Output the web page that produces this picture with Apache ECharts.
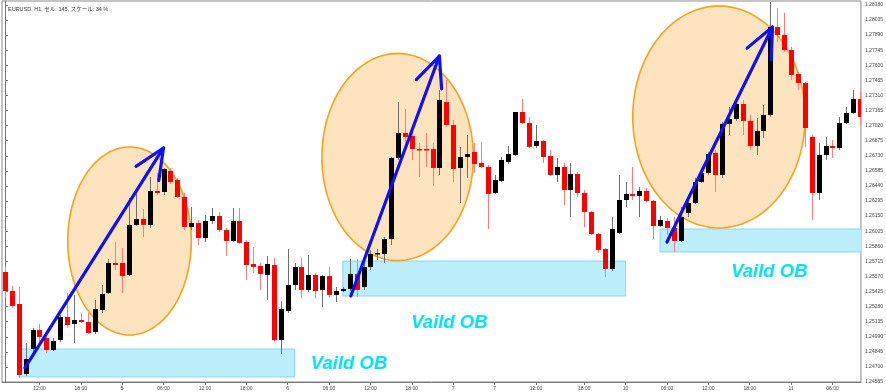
<!DOCTYPE html>
<html><head><meta charset="utf-8">
<script src="https://cdn.jsdelivr.net/npm/echarts@6/dist/echarts.min.js"></script>
<style>html,body{margin:0;padding:0;background:#fff}#c{width:886px;height:392px}</style>
</head><body><div id="c"></div>
<script>
const opens = [1.25613,1.25430,1.25305,1.24632,1.24872,1.25055,1.24978,1.24863,1.24959,1.25180,1.25113,1.25151,1.25132,1.25036,1.25247,1.25411,1.25699,1.25699,1.25584,1.26065,1.26122,1.26065,1.26392,1.26382,1.26584,1.26497,1.26334,1.26045,1.26084,1.25940,1.26103,1.26151,1.26017,1.25911,1.26103,1.25901,1.25690,1.25670,1.25584,1.25680,1.24959,1.25238,1.25488,1.25661,1.25440,1.25584,1.25440,1.25574,1.25392,1.25430,1.25449,1.25594,1.25468,1.25661,1.25786,1.25786,1.25930,1.26709,1.26949,1.26920,1.26795,1.26795,1.26795,1.26613,1.27247,1.27026,1.26613,1.26718,1.26767,1.26661,1.26622,1.26372,1.26488,1.26670,1.26738,1.27151,1.27045,1.26824,1.26872,1.26728,1.26545,1.26622,1.26401,1.26555,1.26372,1.26190,1.25978,1.25834,1.25642,1.25988,1.26305,1.26363,1.26344,1.26392,1.26295,1.26055,1.26103,1.26036,1.25911,1.26180,1.26276,1.26478,1.26565,1.26757,1.26545,1.27036,1.27084,1.27228,1.27065,1.26824,1.26968,1.27122,1.27968,1.27891,1.27747,1.27516,1.27430,1.26911,1.26372,1.26738,1.26824,1.26805,1.27045,1.27142,1.27276];
const highs = [1.25661,1.25478,1.25468,1.24930,1.25074,1.25113,1.25026,1.24978,1.25199,1.25411,1.25392,1.25219,1.25219,1.25344,1.25488,1.25738,1.25901,1.25844,1.26324,1.26382,1.26219,1.26526,1.26565,1.26613,1.26613,1.26517,1.26372,1.26238,1.26113,1.26161,1.26228,1.26190,1.26036,1.26228,1.26228,1.25920,1.25853,1.25699,1.25767,1.25747,1.25334,1.25834,1.25699,1.25747,1.25776,1.25603,1.25584,1.25661,1.25468,1.25468,1.25738,1.25738,1.25699,1.25824,1.25834,1.25949,1.26718,1.27247,1.27180,1.26978,1.26853,1.26949,1.26853,1.27363,1.27459,1.27074,1.26815,1.26930,1.26853,1.26863,1.26641,1.26545,1.26718,1.26824,1.27151,1.27276,1.27103,1.27026,1.26882,1.26786,1.26709,1.26661,1.26661,1.26574,1.26401,1.26199,1.25988,1.25844,1.26141,1.26545,1.26478,1.26622,1.26430,1.26420,1.26305,1.26151,1.26132,1.26141,1.26238,1.26324,1.26517,1.26613,1.26767,1.26786,1.27055,1.27199,1.27267,1.27267,1.27122,1.27093,1.27218,1.28209,1.28151,1.28103,1.27776,1.27536,1.27440,1.26930,1.26853,1.26911,1.26882,1.27103,1.27199,1.27363,1.27343];
const lows = [1.25372,1.25267,1.24594,1.24613,1.24844,1.24940,1.24834,1.24853,1.24940,1.25074,1.24930,1.25122,1.25017,1.25017,1.25219,1.25401,1.25632,1.25411,1.25574,1.26055,1.25949,1.26036,1.26353,1.26353,1.26459,1.26324,1.26017,1.26017,1.25872,1.25901,1.26074,1.25997,1.25767,1.25901,1.25882,1.25536,1.25603,1.25440,1.25344,1.24940,1.24824,1.25219,1.25440,1.25363,1.25420,1.25363,1.25276,1.25372,1.25324,1.25420,1.25430,1.25372,1.25440,1.25632,1.25728,1.25699,1.25872,1.26690,1.26853,1.26690,1.26526,1.26622,1.26440,1.26545,1.27007,1.26478,1.26276,1.26517,1.26565,1.26613,1.26026,1.26363,1.26478,1.26651,1.26728,1.27036,1.26805,1.26805,1.26661,1.26536,1.26478,1.26257,1.26141,1.26334,1.26045,1.25969,1.25795,1.25565,1.25622,1.25978,1.26238,1.26305,1.26141,1.26286,1.25930,1.26045,1.25969,1.25805,1.25901,1.26141,1.26266,1.26469,1.26545,1.26382,1.26517,1.26930,1.27065,1.26930,1.26786,1.26738,1.26901,1.27103,1.27824,1.27728,1.27459,1.27363,1.26815,1.26113,1.26305,1.26690,1.26709,1.26786,1.27036,1.27132,1.27026];
const closes = [1.25430,1.25286,1.24622,1.24776,1.25055,1.24988,1.24863,1.24949,1.25180,1.25103,1.25151,1.25132,1.25026,1.25257,1.25401,1.25699,1.25680,1.25574,1.26065,1.26122,1.26065,1.26392,1.26372,1.26603,1.26478,1.26334,1.26045,1.26084,1.25940,1.26103,1.26151,1.26017,1.25911,1.26103,1.25892,1.25680,1.25661,1.25594,1.25690,1.24959,1.25257,1.25488,1.25661,1.25440,1.25584,1.25430,1.25574,1.25392,1.25430,1.25449,1.25594,1.25440,1.25661,1.25786,1.25795,1.25930,1.26709,1.26949,1.26911,1.26795,1.26786,1.26786,1.26613,1.27267,1.27026,1.26603,1.26718,1.26747,1.26651,1.26622,1.26363,1.26497,1.26690,1.26747,1.27151,1.27045,1.26815,1.26872,1.26718,1.26545,1.26622,1.26401,1.26555,1.26372,1.26190,1.25978,1.25824,1.25642,1.26026,1.26305,1.26363,1.26344,1.26392,1.26295,1.26055,1.26113,1.26036,1.25911,1.26141,1.26276,1.26478,1.26565,1.26747,1.26545,1.27036,1.27084,1.27228,1.27065,1.26824,1.26968,1.27122,1.27968,1.27891,1.27747,1.27507,1.27430,1.26997,1.26372,1.26738,1.26824,1.26805,1.27045,1.27142,1.27276,1.27103];

const tickIndex = [5,11,17,23,29,35,41,47,53,59,65,71,77,84,90,96,102,108,114,120];
const tickLabels = ['12:00','18:00','5','06:00','12:00','18:00','6','06:00','12:00','18:00','7','7','12:00','18:00','10','06:00','12:00','18:00','11','06:00'];
const priceTicks = [1.24555,1.24700,1.24845,1.24990,1.25135,1.25280,1.25425,1.25570,1.25715,1.25860,1.26005,1.26150,1.26295,1.26440,1.26585,1.26730,1.26875,1.27020,1.27165,1.27310,1.27455,1.27600,1.27745,1.27890,1.28035,1.28180];

// [fromIndex, toIndex, topPrice, bottomPrice]
const zones = [[2,42,1.24872,1.24603],[49,90,1.25718,1.25382],[95,126,1.26026,1.25805]];
// [centerIndex, centerPrice, radiusInBars, radiusInPrice]
const ellipses = [[18.06,1.25911,8.96,0.00904],[56.94,1.26718,10.98,0.00995],[103.54,1.27103,12.5,0.01067]];
// [fromIndex, fromPrice, toIndex, toPrice]
const arrows = [[2.89,1.24690,22.98,1.26805],[50.15,1.25382,63.0,1.27689],[96.0,1.25901,111.3,1.27968]];
// [index, price, text]
const notes = [[49.9,1.24728,'Vaild OB'],[64.45,1.25122,'Vaild OB'],[110.85,1.25613,'Vaild OB']];

const candleData = opens.map((o,i)=>[i,o,closes[i],lows[i],highs[i]]);

const chart = echarts.init(document.getElementById('c'), null, {renderer:'canvas'});
chart.setOption({
  animation:false,
  backgroundColor:'#ffffff',
  title:{text:'EURUSD, H1, セル: 145, スケール: 34 %',left:3,top:2,textStyle:{fontSize:5.5,fontWeight:'normal',color:'#333',fontFamily:'Liberation Sans, Noto Sans CJK JP'}},
  grid:{left:2,right:22,top:1,bottom:10,show:true,borderColor:'#8a8a8a',borderWidth:1},
  xAxis:{type:'value',min:-0.434,max:124.13,
    axisLine:{show:true,lineStyle:{color:'#777'}},
    axisTick:{show:true,length:3,customValues:tickIndex,lineStyle:{color:'#777'}},
    axisLabel:{customValues:tickIndex,fontSize:5,color:'#444',margin:4,fontFamily:'Liberation Sans',
      formatter:v=>tickLabels[tickIndex.indexOf(Math.round(v))]||''},
    splitLine:{show:false}},
  yAxis:{type:'value',position:'right',min:1.24555,max:1.28218,scale:true,
    axisLine:{show:true,lineStyle:{color:'#777'}},
    axisTick:{show:true,length:3,customValues:priceTicks,lineStyle:{color:'#777'}},
    axisLabel:{customValues:priceTicks,fontSize:5,color:'#444',margin:4,fontFamily:'Liberation Sans',
      formatter:v=>v.toFixed(5)},
    splitLine:{show:false}},
  series:[
    {type:'custom',name:'zones',z:1,clip:true,data:zones,
      renderItem:(p,api)=>{
        const a=api.coord([api.value(0),api.value(2)]), b=api.coord([api.value(1),api.value(3)]);
        return {type:'rect',shape:{x:a[0],y:a[1],width:b[0]-a[0],height:b[1]-a[1]},
          style:{fill:'#bdeefc',stroke:'#84d8f2',lineWidth:1}};
      }},
    {type:'custom',name:'ellipses',z:2,clip:true,data:ellipses,
      renderItem:(p,api)=>{
        const c=api.coord([api.value(0),api.value(1)]);
        const e=api.coord([api.value(0)+api.value(2),api.value(1)+api.value(3)]);
        const rx=Math.abs(e[0]-c[0]), ry=Math.abs(e[1]-c[1]);
        const pts=[];
        for(let k=0;k<120;k++){const t=k/120*Math.PI*2;pts.push([c[0]+rx*Math.cos(t),c[1]+ry*Math.sin(t)]);}
        return {type:'polygon',shape:{points:pts},style:{fill:'#fee4be',stroke:'#f5a21e',lineWidth:1.6}};
      }},
    {type:'custom',name:'EURUSD',z:3,clip:true,data:candleData,
      renderItem:(p,api)=>{
        const i=api.value(0),o=api.value(1),c=api.value(2),l=api.value(3),h=api.value(4);
        const pO=api.coord([i,o]),pC=api.coord([i,c]),pL=api.coord([i,l]),pH=api.coord([i,h]);
        const x=Math.round(pO[0]);
        const up=c>=o;
        const top=Math.min(pO[1],pC[1]),bot=Math.max(pO[1],pC[1]);
        return {type:'group',children:[
          {type:'line',shape:{x1:x+0.5,y1:pH[1],x2:x+0.5,y2:pL[1]},style:{stroke:up?'#6e6e6e':'#ff7a7a',lineWidth:1}},
          {type:'rect',shape:{x:x-2,y:top,width:5,height:Math.max(1.5,bot-top)},style:{fill:up?'#000000':'#ff0000'}}
        ]};
      }},
    {type:'custom',name:'arrows',z:4,clip:false,data:arrows,
      renderItem:(p,api)=>{
        const a=api.coord([api.value(0),api.value(1)]), b=api.coord([api.value(2),api.value(3)]);
        const ang=Math.atan2(b[1]-a[1],b[0]-a[0])+Math.PI;
        const L=33, s=0.42;
        const h1=[b[0]+L*Math.cos(ang-s),b[1]+L*Math.sin(ang-s)];
        const h2=[b[0]+L*Math.cos(ang+s),b[1]+L*Math.sin(ang+s)];
        const st={stroke:'#1010f0',lineWidth:3.2,lineCap:'round',lineJoin:'round',fill:null};
        return {type:'group',children:[
          {type:'line',shape:{x1:a[0],y1:a[1],x2:b[0],y2:b[1]},style:st},
          {type:'polyline',shape:{points:[h1,b,h2]},style:st}
        ]};
      }},
    {type:'custom',name:'notes',z:5,clip:false,data:notes,
      renderItem:(p,api)=>{
        const c=api.coord([api.value(0),api.value(1)]);
        return {type:'text',style:{text:notes[p.dataIndex][2],x:c[0],y:c[1],fill:'#00e4fb',
          fontSize:18.5,fontWeight:'bold',fontStyle:'italic',fontFamily:'Liberation Sans',align:'center',verticalAlign:'middle'}};
      }}
  ]
});
</script></body></html>
